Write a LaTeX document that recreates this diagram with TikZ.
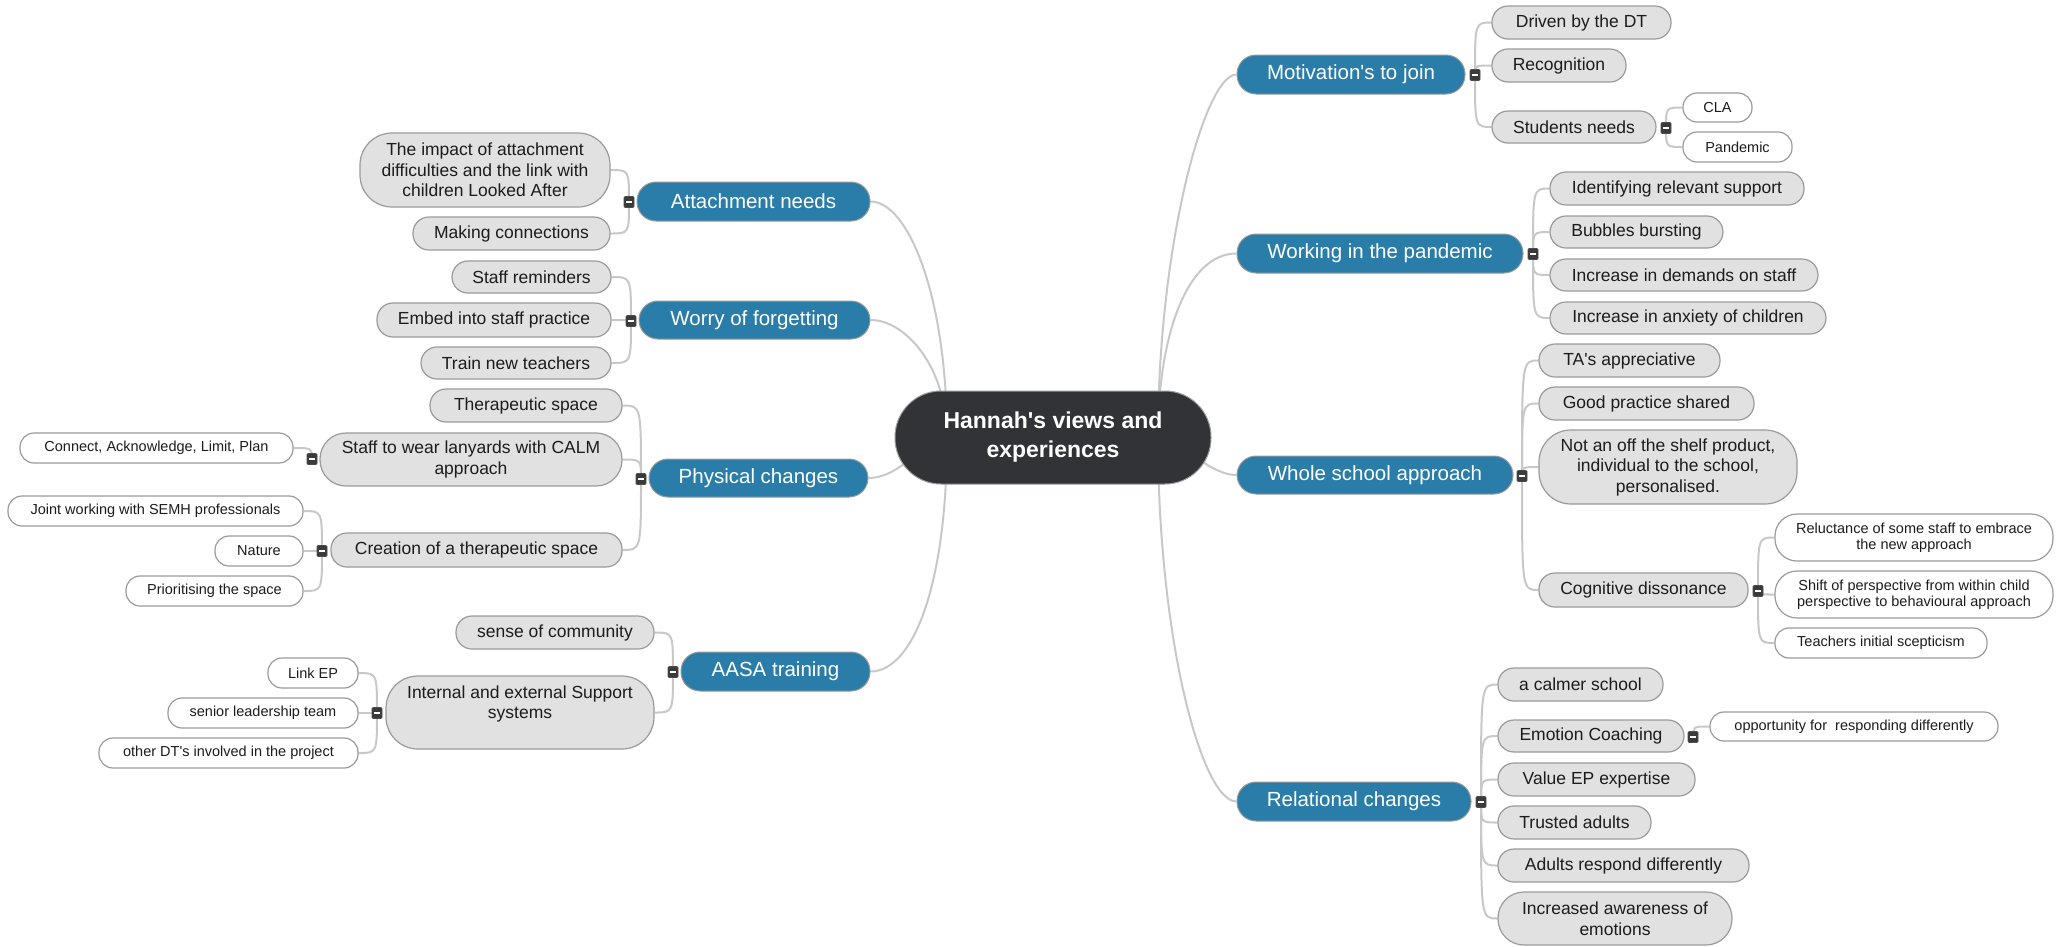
\documentclass[tikz,border=0pt]{standalone}
\usepackage{fontspec}
\setmainfont{Liberation Sans}[Ligatures=TeXOff]
\pgfdeclarelayer{bg}
\pgfsetlayers{bg,main}

\definecolor{hubfill}{HTML}{323337}
\definecolor{bluefill}{HTML}{2A7DA8}
\definecolor{grayfill}{HTML}{E1E1E1}
\definecolor{edgegray}{HTML}{9B9B9B}
\definecolor{linkgray}{HTML}{C8C8C8}
\definecolor{foldfill}{HTML}{3A3A3A}
\definecolor{inkdark}{HTML}{1C1C1C}

\newcommand\fntHub{\fontsize{23}{29}\selectfont\bfseries}
\newcommand\fntBlue{\fontsize{20.5}{24}\selectfont}
\newcommand\fntGray{\fontsize{17.5}{20.5}\selectfont}
\newcommand\fntWhite{\fontsize{14.5}{16.5}\selectfont}

\tikzset{
  sz/.style 2 args={minimum width=#1pt, minimum height=#2pt},
  hub/.style={draw=edgegray, fill=hubfill, text=white, line width=1pt,
    rounded corners=46pt, inner sep=0pt, align=center, font=\fntHub},
  topic/.style={draw=edgegray, fill=bluefill, text=white, line width=1pt,
    rounded corners=19pt, inner sep=0pt, font=\fntBlue},
  gbox/.style={draw=edgegray, fill=grayfill, text=inkdark, line width=1.2pt,
    rounded corners=16pt, inner sep=0pt, align=center, font=\fntGray},
  wbox/.style={draw=edgegray, fill=white, text=inkdark, line width=1.2pt,
    rounded corners=14pt, inner sep=0pt, align=center, font=\fntWhite},
  fold/.style={fill=foldfill, draw=black!70, line width=0.6pt,
    minimum width=10pt, minimum height=11pt, inner sep=0pt, rounded corners=1pt,
    path picture={\draw[white, line width=1.5pt]
      ([xshift=-2.6pt]path picture bounding box.center) --
      ([xshift=2.6pt]path picture bounding box.center);}},
  link/.style={draw=linkgray, line width=2pt},
}

\begin{document}
\begin{tikzpicture}[x=1pt, y=-1pt]
\useasboundingbox (0,0) rectangle (2065,946);
\begin{pgfonlayer}{bg}
  \fill[white] (0,0) rectangle (2065,946);
\end{pgfonlayer}

% central topic and hidden hubs for the main branches
\node[hub, sz={316}{93}] (root) at (1053,437.5) {Hannah's views and\\experiences};
\coordinate (hubL) at (947,437);
\coordinate (hubR) at (1158,437);

% main branches
\node[topic, sz={233}{39}] (a1) at (753.5,201.5) {Attachment needs};
\node[topic, sz={231}{38}] (a2) at (754.5,320) {Worry of forgetting};
\node[topic, sz={219}{38}] (a3) at (758.5,478) {Physical changes};
\node[topic, sz={189}{39}] (a4) at (775.5,671.5) {AASA training};
\node[topic, sz={228}{39}] (b1) at (1351,74.5) {Motivation's to join};
\node[topic, sz={286}{39}] (b2) at (1380,253.5) {Working in the pandemic};
\node[topic, sz={276}{38}] (b3) at (1375,475) {Whole school approach};
\node[topic, sz={234}{39}] (b4) at (1354,801.5) {Relational changes};

% collapse markers
\node[fold] (fa1) at (629,202) {};
\node[fold] (fa2) at (631,321) {};
\node[fold] (fa3) at (641,479) {};
\node[fold] (fa4) at (673,672) {};
\node[fold] (flan) at (312,459) {};
\node[fold] (fcre) at (322,551) {};
\node[fold] (fint) at (377,713) {};
\node[fold] (fb1) at (1475,75) {};
\node[fold] (fstu) at (1666,128) {};
\node[fold] (fb2) at (1533,254) {};
\node[fold] (fb3) at (1522,476) {};
\node[fold] (fcog) at (1758,591) {};
\node[fold] (fb4) at (1481,802) {};
\node[fold] (femo) at (1693,737) {};

% Attachment needs
\node[gbox, sz={250}{74}, rounded corners=32pt] (impact) at (485,170)
  {The impact of attachment\\difficulties and the link with\\children Looked After};
\node[gbox, sz={197}{33}] (making) at (511.5,233.5) {Making connections};
% Worry of forgetting
\node[gbox, sz={159}{32}] (remind) at (531.5,277) {Staff reminders};
\node[gbox, sz={234}{34}] (embed) at (494,320) {Embed into staff practice};
\node[gbox, sz={190}{32}] (train) at (516,363) {Train new teachers};
% Physical changes
\node[gbox, sz={192}{33}] (therap) at (526,405.5) {Therapeutic space};
\node[gbox, sz={302}{53}, rounded corners=26pt] (lanyard) at (471,459.5)
  {Staff to wear lanyards with CALM\\approach};
\node[gbox, sz={291}{34}] (create) at (476.5,550) {Creation of a therapeutic space};
\node[wbox, sz={273}{30}] (calm) at (156.5,448) {Connect, Acknowledge, Limit, Plan};
\node[wbox, sz={295}{30}] (joint) at (155.5,511) {Joint working with SEMH professionals};
\node[wbox, sz={88}{30}] (nature) at (259,551) {Nature};
\node[wbox, sz={177}{30}] (prior) at (214.5,591) {Prioritising the space};
% AASA training
\node[gbox, sz={198}{33}] (sense) at (555,632.5) {sense of community};
\node[gbox, sz={268}{73}, rounded corners=32pt] (intern) at (520,712.5)
  {Internal and external Support\\systems\\\mbox{}};
\node[wbox, sz={90}{30}] (linkep) at (313,673) {Link EP};
\node[wbox, sz={190}{30}] (senior) at (263,713) {senior leadership team};
\node[wbox, sz={259}{30}] (otherdt) at (228.5,753) {other DT's involved in the project};

% Motivation's to join
\node[gbox, sz={179}{33}] (driven) at (1581.5,22.5) {Driven by the DT};
\node[gbox, sz={134}{33}] (recog) at (1559,65.5) {Recognition};
\node[gbox, sz={164}{32}] (stud) at (1574,127) {Students needs};
\node[wbox, sz={69}{29}] (cla) at (1717.5,107.5) {CLA};
\node[wbox, sz={109}{30}] (pand) at (1737.5,147) {Pandemic};
% Working in the pandemic
\node[gbox, sz={254}{33}] (ident) at (1677,188.5) {Identifying relevant support};
\node[gbox, sz={173}{32}] (bubble) at (1636.5,232) {Bubbles bursting};
\node[gbox, sz={268}{32}] (demand) at (1684,275) {Increase in demands on staff};
\node[gbox, sz={276}{32}] (anxiety) at (1688,318) {Increase in anxiety of children};
% Whole school approach
\node[gbox, sz={181}{33}] (tas) at (1629.5,360.5) {TA's appreciative};
\node[gbox, sz={215}{33}] (good) at (1646.5,403.5) {Good practice shared};
\node[gbox, sz={258}{74}, rounded corners=32pt] (shelf) at (1668,467)
  {Not an off the shelf product,\\individual to the school,\\personalised.};
\node[gbox, sz={209}{34}] (cogn) at (1643.5,590) {Cognitive dissonance};
\node[wbox, sz={278}{47}, rounded corners=22pt] (reluct) at (1914,537.5)
  {Reluctance of some staff to embrace\\the new approach};
\node[wbox, sz={278}{47}, rounded corners=22pt] (shift) at (1914,594.5)
  {Shift of perspective from within child\\perspective to behavioural approach};
\node[wbox, sz={212}{30}] (sceptic) at (1881,643) {Teachers initial scepticism};
% Relational changes
\node[gbox, sz={165}{33}] (calmer) at (1580.5,684.5) {a calmer school};
\node[gbox, sz={186}{32}] (coach) at (1591,736) {Emotion Coaching};
\node[wbox, sz={288}{29}] (oppor) at (1854,726.5) {opportunity for~ responding differently};
\node[gbox, sz={197}{33}] (valueep) at (1596.5,779.5) {Value EP expertise};
\node[gbox, sz={153}{33}] (trusted) at (1574.5,822.5) {Trusted adults};
\node[gbox, sz={251}{33}] (respond) at (1623.5,865.5) {Adults respond differently};
\node[gbox, sz={234}{53}, rounded corners=26pt] (aware) at (1615,918.5)
  {Increased awareness of\\emotions};

\begin{pgfonlayer}{bg}
  % central topic to main branches
  \draw[link] (a1.east) .. controls +(38,0) and +(0,-140) .. (hubL);
  \draw[link] (a2.east) .. controls +(35,0) and +(0,-70) .. (hubL);
  \draw[link] (a3.east) .. controls +(30,0) and +(-30,10) .. (hubL);
  \draw[link] (a4.east) .. controls +(42,0) and +(0,150) .. (hubL);
  \draw[link] (b1.west) .. controls +(-32,0) and +(0,-190) .. (hubR);
  \draw[link] (b2.west) .. controls +(-50,0) and +(0,-100) .. (hubR);
  \draw[link] (b3.west) .. controls +(-25,0) and +(30,10) .. (hubR);
  \draw[link] (b4.west) .. controls +(-35,0) and +(0,200) .. (hubR);

  % markers to sub-topics
  \foreach \f/\c in {fa1/impact, fa1/making, fa2/remind, fa2/embed, fa2/train,
      fa3/therap, fa3/lanyard, fa3/create, flan/calm, fcre/joint, fcre/nature,
      fcre/prior, fa4/sense, fa4/intern, fint/linkep, fint/senior, fint/otherdt}
    \draw[link] (\f.center) .. controls (\f.center |- \c.east) .. (\c.east);
  \foreach \f/\c in {fb1/driven, fb1/recog, fb1/stud, fstu/cla, fstu/pand,
      fb2/ident, fb2/bubble, fb2/demand, fb2/anxiety, fb3/tas, fb3/good,
      fb3/shelf, fb3/cogn, fcog/reluct, fcog/shift, fcog/sceptic,
      fb4/calmer, fb4/coach, fb4/valueep, fb4/trusted, fb4/respond, fb4/aware,
      femo/oppor}
    \draw[link] (\f.center) .. controls (\f.center |- \c.west) .. (\c.west);
\end{pgfonlayer}
\end{tikzpicture}
\end{document}
